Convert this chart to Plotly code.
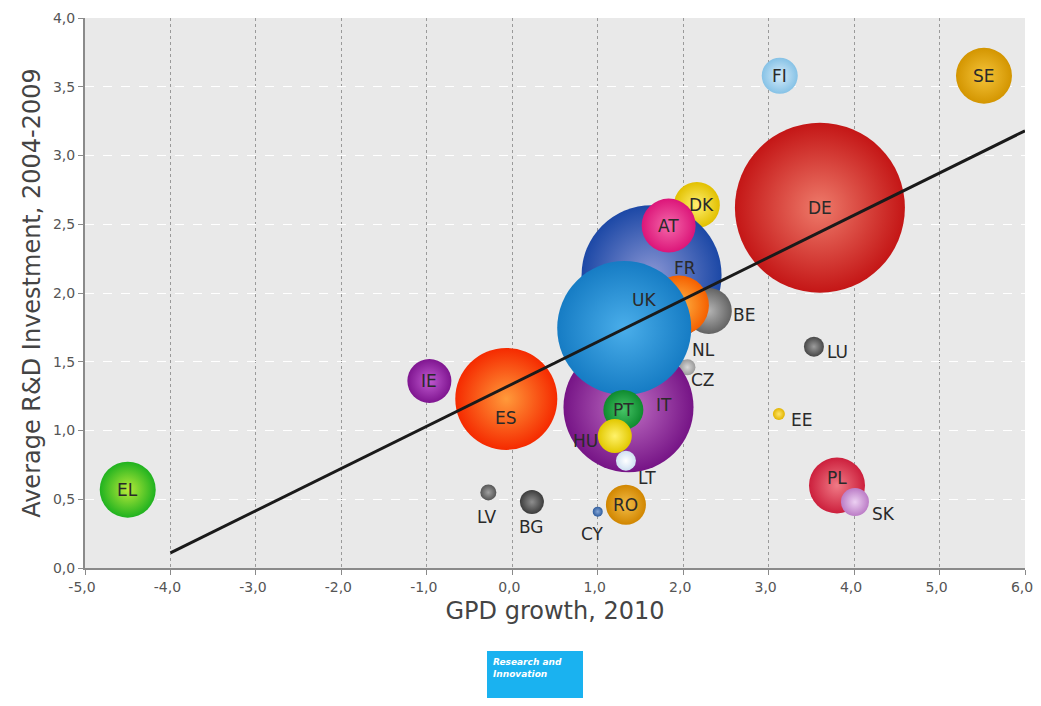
import plotly.graph_objects as go

# ---- data ----
countries = ["EL", "IE", "ES", "DE", "SE", "FI", "DK", "FR", "AT", "BE", "NL", "CZ",
             "IT", "UK", "PT", "HU", "LT", "RO", "CY", "BG", "LV", "LU", "EE", "PL", "SK"]
gdp_growth = [-4.5, -0.97, -0.07, 3.6, 5.52, 3.13, 2.16, 1.63, 1.83, 2.3, 1.95, 2.05,
              1.36, 1.31, 1.3, 1.2, 1.33, 1.33, 1.0, 0.23, -0.28, 3.53, 3.12, 3.8, 4.01]
rd_invest = [0.57, 1.36, 1.23, 2.62, 3.58, 3.58, 2.64, 2.13, 2.49, 1.87, 1.91, 1.46,
             1.17, 1.745, 1.15, 0.96, 0.78, 0.46, 0.41, 0.48, 0.55, 1.61, 1.12, 0.6, 0.48]
bubble_size = [56, 44, 102, 170, 56, 36, 46, 140, 54, 46, 60, 16,
               130, 134, 40, 34, 20, 40, 10, 24, 16, 20, 12, 56, 28]

trend_x = [-4.0, 6.0]
trend_y = [0.11, 3.18]

x_tick_values = [-5, -4, -3, -2, -1, 0, 1, 2, 3, 4, 5, 6]
x_tick_labels = ["-5,0", "-4,0", "-3,0", "-2,0", "-1,0", "0,0", "1,0", "2,0", "3,0", "4,0", "5,0", "6,0"]
y_tick_values = [0, 0.5, 1, 1.5, 2, 2.5, 3, 3.5, 4]
y_tick_labels = ["0,0", "0,5", "1,0", "1,5", "2,0", "2,5", "3,0", "3,5", "4,0"]

# ---- styles ----
edge_colors = ["#1fb21f", "#7f1590", "#f52a00", "#c41616", "#d39500", "#86c2e6", "#e2c000",
               "#1c48a6", "#dc1579", "#636363", "#f56000", "#9a9a9a",
               "#761486", "#167cc4", "#0e8a2e", "#e2c800", "#cfe0f2", "#d18600", "#2f5d9e",
               "#3c3c3c", "#555555", "#474747", "#e2b400", "#cc1f3c", "#bb7cc6"]
center_colors = ["#b8ea3a", "#c05ad0", "#ff9a3a", "#ee7a6a", "#f5c43a", "#d6ecfa", "#fff070",
                 "#8a96d4", "#f468aa", "#b4b4b4", "#ffb545", "#d8d8d8",
                 "#c070c4", "#4aaeea", "#46c466", "#fff26a", "#ffffff", "#f3bd48", "#86a6d6",
                 "#8e8e8e", "#a0a0a0", "#9c9c9c", "#ffe56a", "#f07a86", "#ecd0f2"]
label_shift = {  # (xshift, yshift) in px
    "ES": (0, -19), "DK": (5, 0), "FR": (33, 7), "UK": (20, 28), "NL": (25, -45),
    "BE": (35, -4), "CZ": (16, -13), "IT": (36, 2), "HU": (-29, -5), "LT": (21, -17),
    "CY": (-5, -22), "BG": (0, -25), "LV": (-1, -25), "LU": (24, -5), "EE": (23, -6),
    "PL": (0, 8), "SK": (29, -12),
}

fig = go.Figure()

fig.add_trace(go.Scatter(
    x=gdp_growth, y=rd_invest, mode="markers",
    marker=dict(size=bubble_size, sizemode="diameter", color=edge_colors,
                gradient=dict(type="radial", color=center_colors),
                line=dict(width=0), opacity=1),
    hoverinfo="text", text=countries, showlegend=False,
))

fig.add_trace(go.Scatter(
    x=trend_x, y=trend_y, mode="lines",
    line=dict(color="#1a1a1a", width=3), showlegend=False, hoverinfo="skip",
))

annotations = []
for c, gx, ry in zip(countries, gdp_growth, rd_invest):
    xs, ys = label_shift.get(c, (0, 0))
    annotations.append(dict(
        x=gx, y=ry, xref="x", yref="y", text=c, showarrow=False,
        xshift=xs, yshift=ys,
        font=dict(family="DejaVu Sans", size=17, color="#2a2a2a"),
    ))

# logo box text
annotations.append(dict(
    x=(491 - 85) / 940, y=(568 - 655) / 550, xref="paper", yref="paper",
    xanchor="left", yanchor="top", align="left", showarrow=False,
    text="<b><i>Research and<br>Innovation</i></b>",
    font=dict(family="DejaVu Sans", size=9, color="white"),
))

# page body has an 8px default margin, so the figure is sized to fit inside the window
fig.update_layout(
    width=1033, height=690,
    margin=dict(l=77, r=16, t=10, b=130, autoexpand=False),
    paper_bgcolor="white", plot_bgcolor="#e9e9e9",
    font=dict(family="DejaVu Sans", color="#555555"),
    annotations=annotations,
    shapes=[dict(type="rect", xref="paper", yref="paper",
                 x0=(487 - 85) / 940, x1=(583 - 85) / 940,
                 y0=(568 - 706) / 550, y1=(568 - 651) / 550,
                 fillcolor="#1ab2f0", line=dict(width=0), layer="above")],
)

fig.update_xaxes(
    range=[-5, 6], tickvals=x_tick_values, ticktext=x_tick_labels, automargin=False,
    ticklabeloverflow="allow", ticklabelshift=-3,
    showline=True, linecolor="#8a8a8a", linewidth=2, mirror=False,
    ticks="outside", ticklen=5, tickcolor="#8a8a8a",
    showgrid=True, gridcolor="#9a9a9a", griddash="dot", gridwidth=1,
    zeroline=False,
    tickfont=dict(family="DejaVu Sans", size=14, color="#555555"),
    title=dict(text="GPD growth, 2010", standoff=8,
               font=dict(family="DejaVu Sans", size=24, color="#444444")),
)
fig.update_yaxes(
    range=[0, 4], tickvals=y_tick_values, ticktext=y_tick_labels, automargin=False,
    showline=True, linecolor="#8a8a8a", linewidth=2,
    ticks="outside", ticklen=5, tickcolor="#8a8a8a",
    showgrid=True, gridcolor="#ffffff", griddash="dash", gridwidth=1,
    zeroline=False,
    tickfont=dict(family="DejaVu Sans", size=14, color="#555555"),
    title=dict(text="Average R&D Investment, 2004-2009", standoff=6,
               font=dict(family="DejaVu Sans", size=24, color="#444444")),
)

fig.write_html("out.html")
